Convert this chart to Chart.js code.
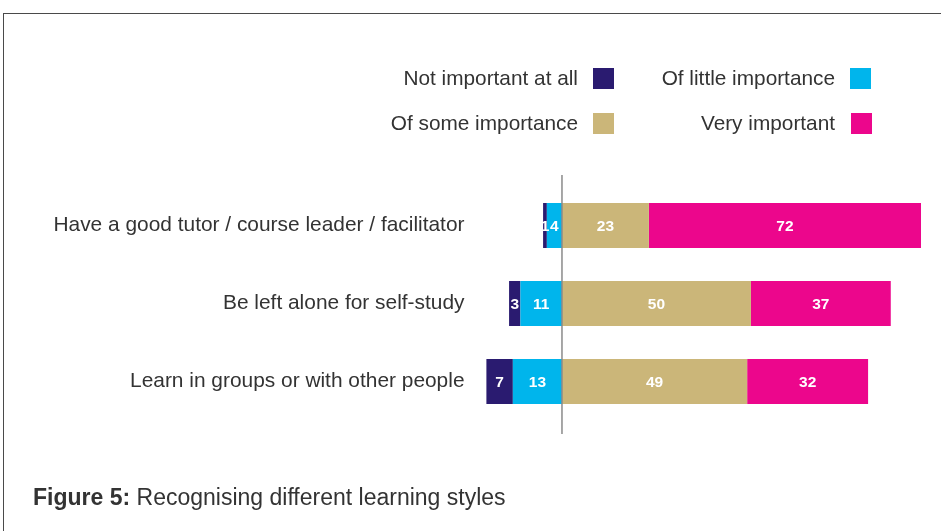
<!DOCTYPE html>
<html lang="en">
<head>
  <meta charset="utf-8" />
  <title>Figure 5: Recognising different learning styles</title>
  <style>
body { margin: 0; background: #fff; font-family: "Liberation Sans", Arial, sans-serif; }
#wrap { position: relative; width: 941px; height: 531px; overflow: hidden; }
#frame { position: absolute; left: 3px; top: 13px; width: 960px; height: 600px;
  border-top: 1.5px solid #4a4a4a; border-left: 1.5px solid #4a4a4a; }
#myChart { position: absolute; left: 0; top: 0; }
.lg { position: absolute; font-size: 20.8px; color: #333; white-space: nowrap; text-align: right; }
.box { position: absolute; width: 21px; height: 21px; }
#title { position: absolute; left: 33px; top: 484px; font-size: 23px; color: #333; white-space: nowrap; }
  </style>
</head>
<body>
<div id="wrap">
  <div id="frame"></div>
  <canvas id="myChart" width="941" height="531"></canvas>
  <div id="legend"></div>
  <div id="title"><b>Figure 5:</b> Recognising different learning styles</div>
</div>
<script src="https://cdn.jsdelivr.net/npm/chart.js"></script>
<script>
const categories = ['Have a good tutor / course leader / facilitator', 'Be left alone for self-study', 'Learn in groups or with other people'];
const notImportant = [1, 3, 7];
const littleImportance = [4, 11, 13];
const someImportance = [23, 50, 49];
const veryImportant = [72, 37, 32];

const seriesNames = ['Not important at all', 'Of little importance', 'Of some importance', 'Very important'];
const seriesColors = ['#2a1b70', '#00b5ec', '#cbb679', '#ec068c'];

// legend (2x2, label left of the swatch)
const legendPos = [
  {right: 363, top: 68, box: 593}, {right: 106, top: 68, box: 850},
  {right: 363, top: 113, box: 593}, {right: 106, top: 113, box: 851}
];
const legendEl = document.getElementById('legend');
seriesNames.forEach(function(name, i){
  let p = legendPos[i];
  let t = document.createElement('div');
  t.className = 'lg';
  t.textContent = name;
  t.style.right = p.right + 'px';
  t.style.top = (p.top - 2) + 'px';
  legendEl.appendChild(t);
  let b = document.createElement('div');
  b.className = 'box';
  b.style.left = p.box + 'px';
  b.style.top = p.top + 'px';
  b.style.background = seriesColors[i];
  legendEl.appendChild(b);
});

const neg = arr => arr.map(v => -v);

const valueLabels = {
  id: 'valueLabels',
  afterDatasetsDraw(chart){
    const ctx = chart.ctx;
    ctx.save();
    ctx.fillStyle = '#fff';
    ctx.font = 'bold 15.5px "Liberation Sans", Arial, sans-serif';
    ctx.textAlign = 'center';
    ctx.textBaseline = 'middle';
    chart.data.datasets.forEach(function(ds, di){
      chart.getDatasetMeta(di).data.forEach(function(el, i){
        let cx = (el.x + el.base) / 2;
        ctx.fillText(String(Math.abs(ds.data[i])), cx, el.y + 1);
      });
    });
    ctx.restore();
  }
};

const zeroLine = {
  id: 'zeroLine',
  afterDatasetsDraw(chart){
    const ctx = chart.ctx;
    const x = chart.scales.x.getPixelForValue(0);
    ctx.save();
    ctx.strokeStyle = '#8a8a8a';
    ctx.lineWidth = 1.5;
    ctx.beginPath();
    ctx.moveTo(x, 175);
    ctx.lineTo(x, 434);
    ctx.stroke();
    ctx.restore();
  }
};

const ctx = document.getElementById('myChart');
new Chart(ctx, {
  type: 'bar',
  data: {
    labels: categories,
    datasets: [
      {label: seriesNames[1], data: neg(littleImportance), backgroundColor: seriesColors[1]},
      {label: seriesNames[0], data: neg(notImportant), backgroundColor: seriesColors[0]},
      {label: seriesNames[2], data: someImportance, backgroundColor: seriesColors[2]},
      {label: seriesNames[3], data: veryImportant, backgroundColor: seriesColors[3]}
    ]
  },
  options: {
    indexAxis: 'y',
    responsive: false,
    animation: false,
    layout: { padding: { left: 0, right: 20, top: 186.5, bottom: 110.5 } },
    datasets: { bar: { barPercentage: 1, categoryPercentage: 0.577, borderWidth: 0 } },
    scales: {
      x: { stacked: true, min: -25, max: 95, display: false },
      y: {
        stacked: true,
        grid: { display: false, drawTicks: false },
        border: { display: false },
        ticks: { color: '#333', padding: 3, font: { size: 20.9, family: '"Liberation Sans", Arial, sans-serif' } },
        afterFit(scale){ scale.width = 467.5; }
      }
    },
    plugins: { legend: { display: false }, tooltip: { enabled: false } }
  },
  plugins: [zeroLine, valueLabels]
});
</script>
</body>
</html>
